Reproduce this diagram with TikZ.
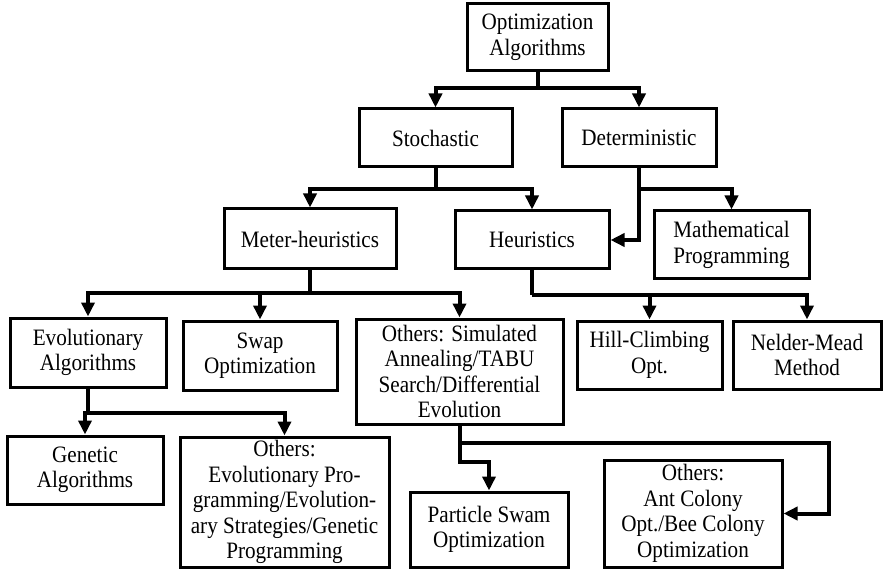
\documentclass[tikz,border=0pt]{standalone}
\usepackage{fontspec}
\setmainfont{Liberation Serif}[FakeStretch=0.9]
\usetikzlibrary{arrows.meta}

\tikzset{
  box/.style={draw, line width=3pt, align=center, inner sep=0pt},
  sz/.style n args={2}{minimum width=#1pt, minimum height=#2pt},
  conn/.style={line width=4pt},
  arr/.style={conn, -{Triangle[width=13pt, length=14pt]}}
}

\begin{document}
\begin{tikzpicture}[
  x=1pt, y=-1pt,
  every node/.style={font=\fontsize{23.5}{25.5}\selectfont}
]
  \useasboundingbox (0,0) rectangle (883,569);

  % level 0 and 1
  \node[box, sz={141}{67}] (root) at (537.5,37.5) {Optimization\\Algorithms};
  \node[box, sz={153}{58}] (stoch) at (435.5,138) {Stochastic};
  \node[box, sz={154}{58}] (determ) at (639,138) {Deterministic};

  % level 2
  \node[box, sz={172}{60}] (meta) at (310,239) {Meter-heuristics};
  \node[box, sz={154}{58}] (heur) at (532,240) {Heuristics};
  \node[box, sz={155}{68}] (math) at (731.5,245) {Mathematical\\Programming};

  % level 3
  \node[box, sz={156}{69}] (evol) at (88,352.5) {Evolutionary\\Algorithms};
  \node[box, sz={154}{69}] (swap) at (260,355.5) {Swap\\Optimization};
  \node[box, sz={207}{105}] (othsim) at (459.5,371.5)
    {Others: Simulated\\Annealing/TABU\\Search/Differential\\Evolution};
  \node[box, sz={145}{68}] (hill) at (649.5,355) {Hill-Climbing\\Opt.};
  \node[box, sz={148}{68}] (nelder) at (807,355) {Nelder-Mead\\Method};

  % level 4
  \node[box, sz={156}{68}] (genetic) at (85,470) {Genetic\\Algorithms};
  \node[box, sz={209}{130}] (othevol) at (284.5,502)
    {Others:\\Evolutionary Pro-\\gramming/Evolution-\\ary Strategies/Genetic\\Programming};
  \node[box, sz={158}{75}] (particle) at (489,529.5) {Particle Swam\\Optimization};
  \node[box, sz={178}{107}] (othant) at (693,513.5)
    {Others:\\Ant Colony\\Opt./Bee Colony\\Optimization};

  % junctions
  \coordinate (j1) at (537.5,88);
  \coordinate (j2) at (435.5,189);
  \coordinate (j3) at (639,189);
  \coordinate (j4) at (310,293);
  \coordinate (j5) at (532,295);
  \coordinate (j6) at (88,413);
  \coordinate (j7) at (459.5,443);
  \coordinate (k1) at (829,443);
  \coordinate (k2) at (459.5,462);

  % connectors
  \draw[conn] (root) -- (j1);
  \draw[arr] (j1) -| (stoch);
  \draw[arr] (j1) -| (determ);

  \draw[conn] (stoch) -- (j2);
  \draw[arr] (j2) -| (meta);
  \draw[arr] (j2) -| (heur);

  \draw[conn] (determ) -- (j3);
  \draw[arr] (j3) -| (math);
  \draw[arr] (j3) |- (heur);

  \draw[conn] (meta) -- (j4);
  \draw[arr] (j4) -| (evol);
  \draw[arr] (j4) -| (swap);
  \draw[arr] (j4) -| (othsim);

  \draw[conn] (heur) -- (j5);
  \draw[arr] (j5) -| (hill);
  \draw[arr] (j5) -| (nelder);

  \draw[conn] (evol) -- (j6);
  \draw[arr] (j6) -| (genetic);
  \draw[arr] (j6) -| (othevol);

  \draw[conn] (othsim) -- (j7);
  \draw[arr] (j7) -- (k1) |- (othant);
  \draw[arr] (j7) -- (k2) -| (particle);
\end{tikzpicture}
\end{document}
